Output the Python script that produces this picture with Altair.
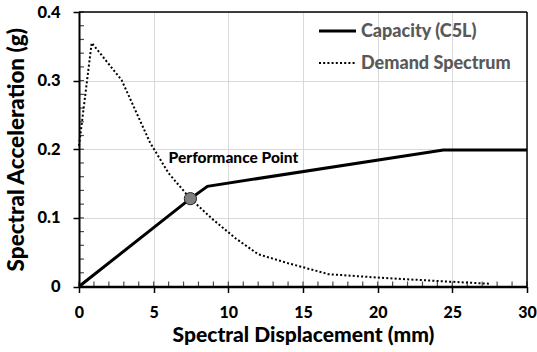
import altair as alt
import pandas as pd

# Capacity curve (bilinear pushover in spectral coordinates)
cap_x = [0, 7.46, 8.6, 24.4, 30]
cap_y = [0, 0.128, 0.146, 0.199, 0.199]

# Demand spectrum (ADRS)
dem_x = [0, 0.85, 2.85, 4.75, 6.0, 7.46, 9.0, 10.5, 12.0, 14.0, 16.7, 20.0, 24.0, 27.5]
dem_y = [0.205, 0.355, 0.301, 0.21, 0.165, 0.128, 0.097, 0.07, 0.047, 0.034, 0.018, 0.013, 0.008, 0.004]

# Performance point
pp_x = [7.46]
pp_y = [0.128]
pp_label = ["Performance Point"]
label_x = [6.0]
label_y = [0.187]

series = ["Capacity (C5L)", "Demand Spectrum"]
x_ticks = [0, 5, 10, 15, 20, 25, 30]
y_ticks = [0, 0.1, 0.2, 0.3, 0.4]
x_minor_ticks = list(range(0, 31))
y_minor_ticks = [round(i * 0.02, 2) for i in range(21)]

cap_df = pd.DataFrame({"x": cap_x, "y": cap_y, "series": series[0], "o": range(len(cap_x))})
dem_df = pd.DataFrame({"x": dem_x, "y": dem_y, "series": series[1], "o": range(len(dem_x))})
pp_df = pd.DataFrame({"x": pp_x, "y": pp_y})
lab_df = pd.DataFrame({"x": label_x, "y": label_y, "t": pp_label})
xminor_df = pd.DataFrame({"x": x_minor_ticks})
yminor_df = pd.DataFrame({"y": y_minor_ticks})

FONT = "Lato"
W, H = 448, 274.5
DOTS = [2, 2.2]

xs = alt.Scale(domain=[0, 30], nice=False, zero=False)
ys = alt.Scale(domain=[0, 0.4], nice=False, zero=False)

x_major = alt.Axis(
    values=x_ticks, grid=True, gridColor="#d9d9d9", gridWidth=1,
    domainColor="black", domainWidth=2.5, tickColor="black", tickWidth=1.5, tickSize=6,
    labelFont=FONT, labelFontSize=16, labelFontWeight=900, labelColor="black", labelPadding=12,
    title="Spectral Displacement (mm)", titleFont=FONT, titleFontSize=21, titleFontWeight=900,
    titleColor="black", titlePadding=4, labelFlush=False,
)
y_major = alt.Axis(
    values=y_ticks, grid=True, gridColor="#d9d9d9", gridWidth=1,
    domainColor="black", domainWidth=2, tickColor="black", tickWidth=1.5, tickSize=6,
    labelFont=FONT, labelFontSize=16.5, labelFontWeight=900, labelColor="black", labelPadding=13,
    labelExpr="datum.value == 0 ? '0' : format(datum.value, '.1f')",
    title="Spectral Acceleration (g)", titleFont=FONT, titleFontSize=22.5, titleFontWeight=900,
    titleColor="black", titlePadding=8, labelFlush=False,
)

X = alt.X("x:Q", scale=xs, axis=x_major)
Y = alt.Y("y:Q", scale=ys, axis=y_major)

cap = alt.Chart(cap_df).mark_line(strokeWidth=3, color="black").encode(x=X, y=Y, order="o:Q")
dem = alt.Chart(dem_df).mark_line(strokeWidth=2, color="black", strokeDash=DOTS).encode(
    x=X, y=Y, order="o:Q")

# minor ticks pointing inward from the bottom and left edges
x_minor = alt.Chart(xminor_df).mark_tick(orient="vertical", size=5, thickness=1.2, color="black").encode(
    x=X, y=alt.value(H - 2.5))
y_minor = alt.Chart(yminor_df).mark_tick(orient="horizontal", size=5, thickness=1.2, color="black").encode(
    y=Y, x=alt.value(2.5))

# closing frame along the top and right edges
frame_top = alt.Chart(pd.DataFrame({"e": ["top"]})).mark_rule(color="black", strokeWidth=1.5).encode(
    x=alt.value(0), x2=alt.value(W), y=alt.value(0))
frame_right = alt.Chart(pd.DataFrame({"e": ["right"]})).mark_rule(color="black", strokeWidth=1.5).encode(
    x=alt.value(W), y=alt.value(0), y2=alt.value(H))

pp = alt.Chart(pp_df).mark_point(filled=True, size=150, fill="#7f7f7f", stroke="#262626",
                                  strokeWidth=1, opacity=1).encode(x=X, y=Y)
lab = alt.Chart(lab_df).mark_text(align="left", baseline="middle", font=FONT, fontSize=15.5,
                                  fontWeight=900, color="black").encode(x=X, y=Y, text="t:N")

# legend: one sample line and one label per series, top right of the plot
legend_layers = []
for name, row_y, width, dash in [(series[0], 19, 3, None), (series[1], 51, 2, DOTS)]:
    line_kw = dict(strokeWidth=width, color="black")
    if dash:
        line_kw["strokeDash"] = dash
    legend_layers.append(
        alt.Chart(pd.DataFrame({"series": [name]})).mark_rule(**line_kw).encode(
            x=alt.value(240), x2=alt.value(277), y=alt.value(row_y))
    )
    legend_layers.append(
        alt.Chart(pd.DataFrame({"series": [name]})).mark_text(
            align="left", baseline="middle", font=FONT, fontSize=18, fontWeight=900, color="#595959"
        ).encode(x=alt.value(282), y=alt.value(row_y + 1), text="series:N")
    )

chart = alt.layer(
    cap, dem, x_minor, y_minor, frame_top, frame_right, pp, lab, *legend_layers
).properties(
    width=W, height=H,
    autosize=alt.AutoSizeParams(type="none"),
    padding={"left": 79, "top": 12, "right": 10, "bottom": 65.5},
).configure_view(strokeWidth=0)

chart.save("out.html", embed_options={"renderer": "svg", "actions": False})
